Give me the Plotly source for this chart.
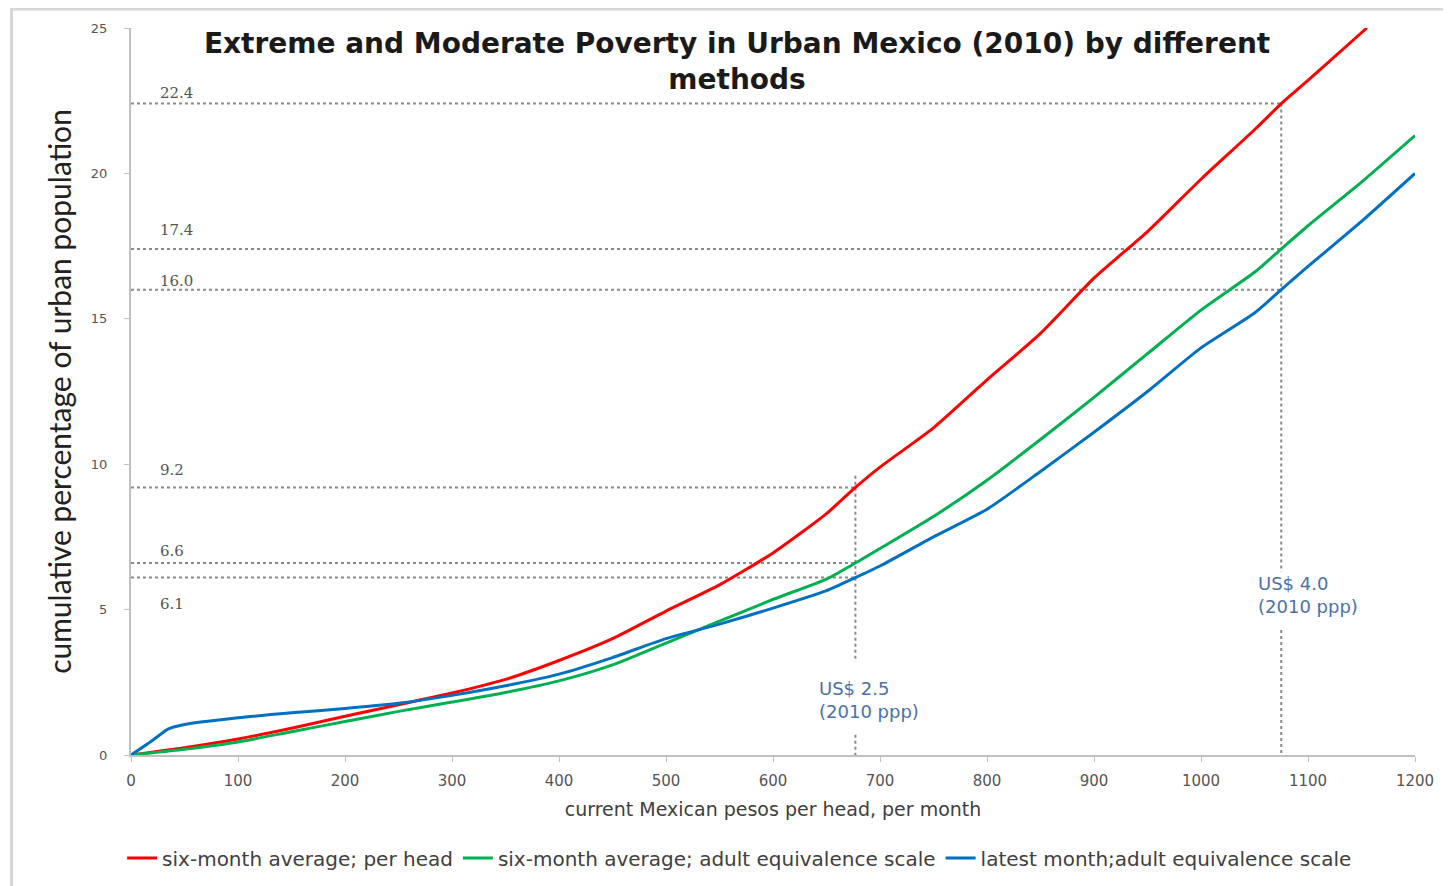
import plotly.graph_objects as go

# ---- data ----
red_x = [0, 50, 100, 150, 200, 250, 300, 350, 400, 450, 500, 550, 600, 650, 677, 700, 750, 800, 850, 900, 950, 1000, 1050, 1075, 1100, 1155]
red_y = [0, 0.25, 0.55, 0.92, 1.33, 1.73, 2.13, 2.6, 3.25, 4.0, 4.95, 5.85, 6.95, 8.3, 9.2, 9.9, 11.25, 12.9, 14.5, 16.4, 18.0, 19.8, 21.5, 22.4, 23.2, 25.0]

green_x = [0, 50, 100, 150, 200, 250, 300, 350, 400, 450, 500, 550, 600, 650, 677, 700, 750, 800, 850, 900, 950, 1000, 1050, 1075, 1100, 1150, 1200]
green_y = [0, 0.2, 0.45, 0.8, 1.15, 1.5, 1.82, 2.15, 2.55, 3.1, 3.85, 4.6, 5.35, 6.05, 6.6, 7.1, 8.2, 9.45, 10.85, 12.3, 13.8, 15.3, 16.6, 17.4, 18.2, 19.7, 21.3]

blue_x = [0, 20, 35, 50, 100, 150, 200, 250, 300, 350, 400, 450, 500, 550, 600, 650, 677, 700, 750, 800, 850, 900, 950, 1000, 1050, 1075, 1100, 1150, 1200]
blue_y = [0, 0.5, 0.9, 1.05, 1.28, 1.45, 1.6, 1.78, 2.05, 2.38, 2.78, 3.35, 4.0, 4.5, 5.05, 5.65, 6.1, 6.5, 7.5, 8.45, 9.75, 11.1, 12.5, 14.0, 15.2, 16.0, 16.8, 18.35, 20.0]

series_names = ["six-month average; per head",
                "six-month average; adult equivalence scale",
                "latest month;adult equivalence scale"]
series_colors = ["#ff0000", "#00b050", "#0070c0"]

# poverty lines (pesos) and their cut values
line_25 = 677
line_40 = 1075
cuts_25 = [9.2, 6.6, 6.1]
cuts_40 = [22.4, 17.4, 16.0]
cut_labels_25 = ["9.2", "6.6", "6.1"]
cut_labels_40 = ["22.4", "17.4", "16.0"]

x_ticks = list(range(0, 1201, 100))
y_ticks = list(range(0, 26, 5))

fig = go.Figure()

guide = dict(color="#8a8a8a", width=2, dash="dot")

# horizontal guide lines
for v in cuts_25:
    fig.add_shape(type="line", x0=0, x1=line_25, y0=v, y1=v, xref="x", yref="y", line=guide, layer="below")
for v in cuts_40:
    fig.add_shape(type="line", x0=0, x1=line_40, y0=v, y1=v, xref="x", yref="y", line=guide, layer="below")

# vertical guide lines with a gap for the labels
fig.add_shape(type="line", x0=line_25, x1=line_25, y0=9.6, y1=3.2, xref="x", yref="y", line=guide, layer="below")
fig.add_shape(type="line", x0=line_25, x1=line_25, y0=0.7, y1=0, xref="x", yref="y", line=guide, layer="below")
fig.add_shape(type="line", x0=line_40, x1=line_40, y0=22.4, y1=6.3, xref="x", yref="y", line=guide, layer="below")
fig.add_shape(type="line", x0=line_40, x1=line_40, y0=4.3, y1=0, xref="x", yref="y", line=guide, layer="below")

for xs, ys, name, col in zip([red_x, green_x, blue_x], [red_y, green_y, blue_y], series_names, series_colors):
    fig.add_trace(go.Scatter(x=xs, y=ys, mode="lines", name=name,
                             line=dict(color=col, width=3, shape="spline", smoothing=0.6)))

lab_font = dict(family="DejaVu Serif", size=15, color="#555555")
label_pos = {"22.4": 22.75, "17.4": 18.05, "16.0": 16.3, "9.2": 9.8, "6.6": 7.0, "6.1": 5.2}
for t in cut_labels_40 + cut_labels_25:
    fig.add_annotation(x=25, y=label_pos[t], text=t, showarrow=False, xanchor="left", yanchor="middle",
                       xref="x", yref="y", font=lab_font)

us_font = dict(family="DejaVu Sans", size=18, color="#4a72a8")
fig.add_annotation(x=641, y=1.9, text="US$ 2.5<br>(2010 ppp)", showarrow=False, xanchor="left", yanchor="middle",
                   align="left", xref="x", yref="y", font=us_font)
fig.add_annotation(x=1051, y=5.5, text="US$ 4.0<br>(2010 ppp)", showarrow=False, xanchor="left", yanchor="middle",
                   align="left", xref="x", yref="y", font=us_font)

# outer frame
fig.add_shape(type="rect", xref="paper", yref="paper", x0=-0.093, x1=1.05, y0=-0.25, y1=1.026,
              line=dict(color="#d6d6d6", width=3), layer="below")

fig.update_layout(
    width=1443, height=878,
    margin=dict(l=123, r=36, t=20, b=131),
    paper_bgcolor="white", plot_bgcolor="white",
    title=dict(text="<b>Extreme and Moderate Poverty in Urban Mexico (2010) by different<br>methods</b>",
               x=0.472, xanchor="center", xref="paper", y=0.9487, yanchor="middle",
               font=dict(family="DejaVu Sans", size=28, color="#1a1a1a")),
    showlegend=True,
    legend=dict(orientation="h", x=0.474, xanchor="center", xref="paper",
                y=0.0319, yanchor="middle", yref="container",
                font=dict(family="DejaVu Sans", size=20, color="#404040"), itemwidth=30,
                tracegroupgap=0),
    font=dict(family="DejaVu Sans", color="#444444"),
)

fig.update_xaxes(range=[0, 1200], tickvals=x_ticks, ticktext=[str(v) for v in x_ticks],
                 showgrid=False, zeroline=False, showline=True, linecolor="#c0c0c0", linewidth=2,
                 ticks="outside", ticklen=5, tickcolor="#c0c0c0", ticklabelstandoff=6,
                 automargin=False,
                 tickfont=dict(family="DejaVu Sans", size=15, color="#555555"),
                 title=dict(text="current Mexican pesos per head, per month", standoff=14,
                            font=dict(family="DejaVu Sans", size=19, color="#404040")))
fig.update_yaxes(range=[0, 25], tickvals=y_ticks, ticktext=[str(v) for v in y_ticks],
                 showgrid=False, zeroline=False, showline=True, linecolor="#c0c0c0", linewidth=2,
                 ticks="outside", ticklen=5, tickcolor="#c0c0c0", ticklabelstandoff=14,
                 automargin=False,
                 tickfont=dict(family="DejaVu Sans", size=13, color="#555555"),
                 title=dict(text="cumulative percentage of urban population", standoff=10,
                            font=dict(family="Lato", size=30, color="#222222")))

fig.write_html("out.html")
